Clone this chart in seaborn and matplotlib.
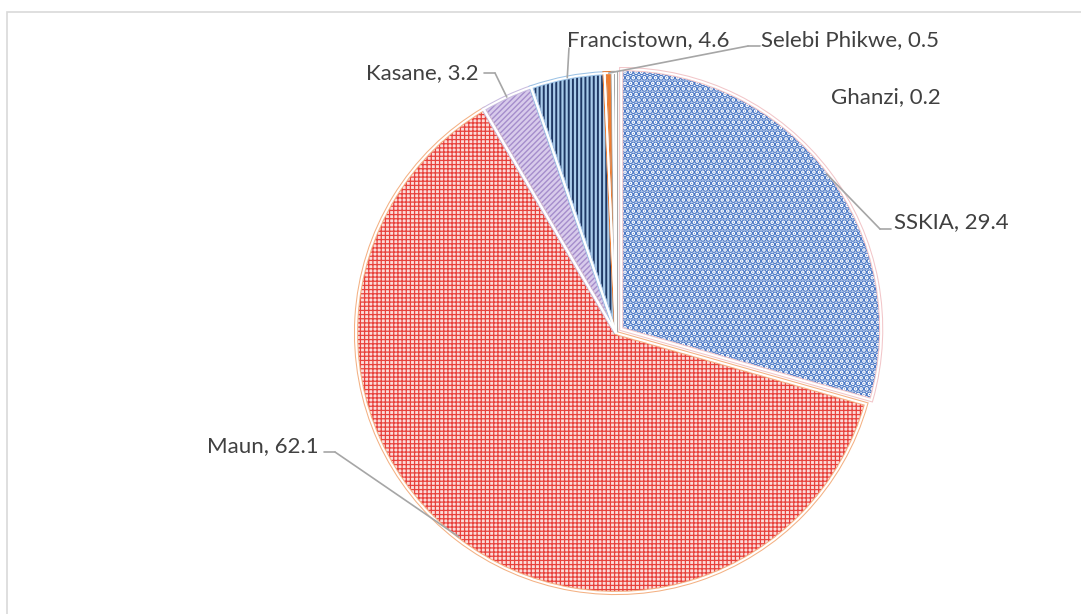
import numpy as np
import matplotlib
matplotlib.use("Agg")
import matplotlib.pyplot as plt
import seaborn as sns

categories = ["SSKIA", "Maun", "Kasane", "Francistown", "Selebi Phikwe", "Ghanzi"]
values = [29.4, 62.1, 3.2, 4.6, 0.5, 0.2]

sns.set_theme(style="white")
plt.rcParams['font.family'] = ['Lato', 'DejaVu Sans']

W, H = 1081, 614
CX, CY, R = 616, 333, 260

fig = plt.figure(figsize=(W / 100, H / 100), dpi=100)
ax = fig.add_axes([0, 0, 1, 1])
ax.axis("off")

def px(x, y):
    return ((x - CX) / R, (CY - y) / R)

face = ["#FFFFFF", "#FBDCDA", "#D8CBEB", "#A9CBEA", "#ED7D31", "#A5A5A5"]
hatchc = ["#4A78C6", "#E8413C", "#A58DCC", "#1F3864", "#ED7D31", "#A5A5A5"]
hatches = ["...", "++++", "//////", "||||", "", ""]
hlw = [3.4, 0.9, 1.0, 1.4, 1.0, 1.0]
edges = ["#F2C6C9", "#F4B183", "#C9BCE0", "#9DC3E6", "#ED7D31", "#A5A5A5"]
explode = [0.025, 0, 0, 0, 0, 0]

# base fill
ax.pie(values, startangle=90, counterclock=False, radius=1, explode=explode,
       colors=face, wedgeprops=dict(linewidth=0))
# hatch overlay, one slice at a time so each can have its own hatch width
for i in range(len(values)):
    if not hatches[i]:
        continue
    plt.rcParams['hatch.linewidth'] = hlw[i]
    ws, _ = ax.pie(values, startangle=90, counterclock=False, radius=1, explode=explode,
                   colors=["none"] * len(values), wedgeprops=dict(linewidth=0))
    for j, w in enumerate(ws):
        if j == i:
            w.set_hatch(hatches[i])
            w.set_edgecolor(hatchc[i])
            try:
                w.set_hatch_linewidth(hlw[i])
            except Exception:
                pass
        else:
            w.set_visible(False)
        w.set_facecolor("none")
# coloured outline
w3, _ = ax.pie(values, startangle=90, counterclock=False, radius=1, explode=explode,
               colors=["none"] * len(values), wedgeprops=dict(linewidth=3))
for w, e in zip(w3, edges):
    w.set_edgecolor(e)
    w.set_facecolor("none")
# white separators
w4, _ = ax.pie(values, startangle=90, counterclock=False, radius=1, explode=explode,
               colors=["none"] * len(values), wedgeprops=dict(linewidth=1.5, edgecolor="white"))
for w in w4:
    w.set_facecolor("none")
ax.set_xlim(-CX / R, (W - CX) / R)
ax.set_ylim((CY - H) / R, CY / R)
ax.set_aspect("auto")

# label positions (pixel layout) and elbow points
labels_layout = {
    "SSKIA": dict(text=(894, 222), ha="left", elbow=(880, 229), r=0.99),
    "Maun": dict(text=(319, 446), ha="right", elbow=(335, 452), r=0.99),
    "Kasane": dict(text=(479, 73), ha="right", elbow=(495, 73), r=1.0),
    "Francistown": dict(text=(567, 40), ha="left", elbow=(569, 48), r=1.0),
    "Selebi Phikwe": dict(text=(761, 40), ha="left", elbow=(748, 46), r=1.0),
    "Ghanzi": dict(text=(831, 97), ha="left", elbow=None, r=1.0),
}

cum = np.cumsum([0] + values)
total = sum(values)
txtcol = "#404040"
lc = "#A6A6A6"
for i, (cat, v) in enumerate(zip(categories, values)):
    lay = labels_layout[cat]
    mid = 90 - 360 * (cum[i] + v / 2) / total
    theta = np.deg2rad(mid)
    ex = explode[i]
    ax_, ay_ = (lay["r"] + ex) * np.cos(theta), (lay["r"] + ex) * np.sin(theta)
    tx, ty = px(*lay["text"])
    ax.text(tx, ty, f"{cat}, {v}", ha=lay["ha"], va="center", fontsize=16, color=txtcol)
    if lay["elbow"] is not None:
        exx, eyy = px(*lay["elbow"])
        if cat == "SSKIA":
            ax.plot([tx - 0.01, exx], [eyy, eyy], color=lc, lw=1.2)
        elif lay["ha"] == "right":
            ax.plot([tx + 0.02, exx], [eyy, eyy], color=lc, lw=1.2)
        elif cat == "Selebi Phikwe":
            ax.plot([tx - 0.005, exx], [eyy, eyy], color=lc, lw=1.2)
        ax.plot([exx, ax_], [eyy, ay_], color=lc, lw=1.2)

# chart frame
fig.patches.append(plt.Rectangle((7 / W, -0.01), 1.2, 1 - 12 / H + 0.01, transform=fig.transFigure,
                                 fill=False, edgecolor="#D9D9D9", lw=1.2))

fig.savefig("out.png", dpi=100)
